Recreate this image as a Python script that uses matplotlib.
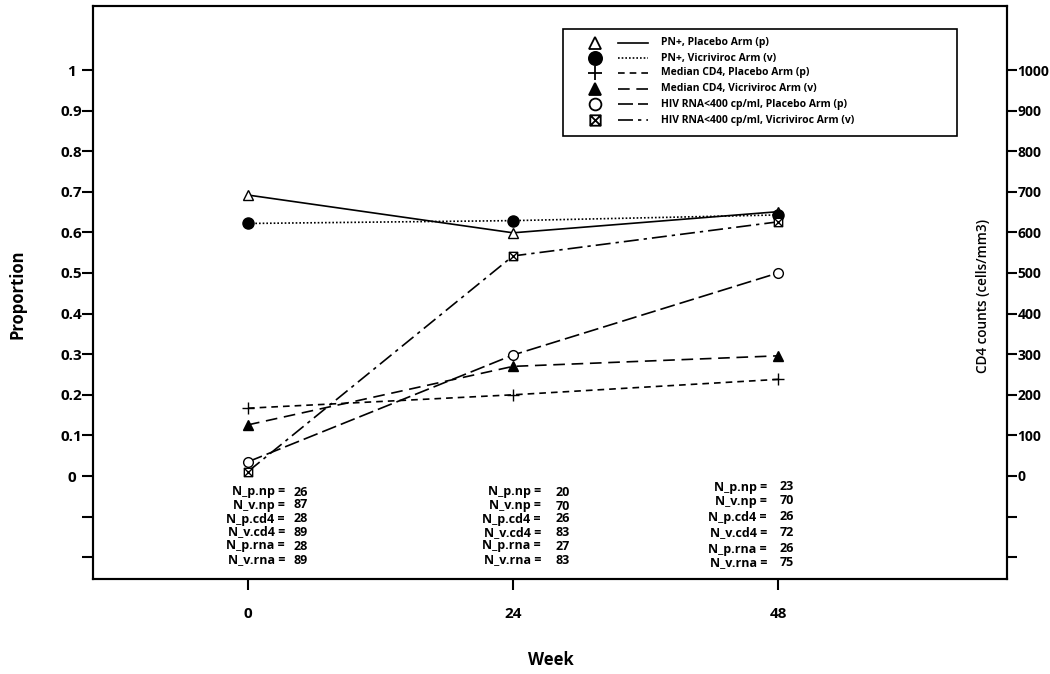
import matplotlib
matplotlib.use("Agg")
import matplotlib.pyplot as plt
from matplotlib.path import Path
from matplotlib.lines import Line2D
from matplotlib.patches import Rectangle

# ---------------- data ----------------
weeks = [0, 24, 48]
pn_placebo = [0.692, 0.599, 0.651]
pn_vicriviroc = [0.622, 0.629, 0.643]
cd4_placebo = [167, 200, 238]        # cells/mm3 (right axis)
cd4_vicriviroc = [126, 270, 296]     # cells/mm3 (right axis)
rna_placebo = [0.035, 0.298, 0.500]
rna_vicriviroc = [0.011, 0.542, 0.626]

legend_labels = ["PN+, Placebo Arm (p)", "PN+, Vicriviroc Arm (v)",
                 "Median CD4, Placebo Arm (p)", "Median CD4, Vicriviroc Arm (v)",
                 "HIV RNA<400 cp/ml, Placebo Arm (p)",
                 "HIV RNA<400 cp/ml, Vicriviroc Arm (v)"]

n_labels = ["N_p.np =", "N_v.np =", "N_p.cd4 =", "N_v.cd4 =", "N_p.rna =", "N_v.rna ="]
n_week0 = [26, 87, 28, 89, 28, 89]
n_week24 = [20, 70, 26, 83, 27, 83]
n_week48 = [23, 70, 26, 72, 26, 75]

left_ticks = [-0.2, -0.1, 0, 0.1, 0.2, 0.3, 0.4, 0.5, 0.6, 0.7, 0.8, 0.9, 1]
left_labels = ["", "", "0", "0.1", "0.2", "0.3", "0.4", "0.5", "0.6", "0.7", "0.8", "0.9", "1"]
right_ticks = [-200, -100, 0, 100, 200, 300, 400, 500, 600, 700, 800, 900, 1000]
right_labels = ["", "", "0", "100", "200", "300", "400", "500", "600", "700", "800", "900", "1000"]

# ---------------- style ----------------
plt.rcParams['font.family'] = ['Open Sans', 'DejaVu Sans']
W, H = 1050, 674
fig = plt.figure(figsize=(W / 100, H / 100), dpi=100)

def fx(x):
    return x / W

def fy(y):
    return 1 - y / H

ax_l, ax_r, ax_t, ax_b = 93, 1007, 6, 579
ax = fig.add_axes([fx(ax_l), fy(ax_b), fx(ax_r) - fx(ax_l), fy(ax_t) - fy(ax_b)])
ax2 = ax.twinx()

x0px, x24px = 248, 513
per = (x24px - x0px) / 24.0
ax.set_xlim((ax_l - x0px) / per, (ax_r - x0px) / per)
y0px, y1px = 476, 70
pu = (y0px - y1px)
ylo, yhi = (y0px - ax_b) / pu, (y0px - ax_t) / pu
ax.set_ylim(ylo, yhi)
ax2.set_ylim(ylo * 1000, yhi * 1000)

# boxed-x marker
boxx = Path([(-1, -1), (1, -1), (1, 1), (-1, 1), (-1, -1), (1, 1), (-1, 1), (1, -1)],
            [Path.MOVETO, Path.LINETO, Path.LINETO, Path.LINETO, Path.CLOSEPOLY,
             Path.LINETO, Path.MOVETO, Path.LINETO])

lw = 1.2
styles = [
    dict(ls='-', marker='^', mfc='white', ms=7),
    dict(ls=(0, (1, 1.2)), marker='o', mfc='black', ms=8),
    dict(ls=(0, (4, 3)), marker='+', mfc='black', ms=8),
    dict(ls=(0, (7, 4)), marker='^', mfc='black', ms=7),
    dict(ls=(0, (9, 3)), marker='o', mfc='white', ms=7),
    dict(ls=(0, (9, 3, 2, 3)), marker=boxx, mfc='white', ms=6),
]

series = [(ax, pn_placebo), (ax, pn_vicriviroc), (ax2, cd4_placebo),
          (ax2, cd4_vicriviroc), (ax, rna_placebo), (ax, rna_vicriviroc)]
for (a, vals), st in zip(series, styles):
    a.plot(weeks, vals, color='black', lw=lw, ls=st['ls'], marker=st['marker'],
           mfc=st['mfc'], mec='black', ms=st['ms'], mew=1.0, clip_on=False)

# axes styling
for a in (ax, ax2):
    for s in a.spines.values():
        s.set_linewidth(1.5)
ax.set_xticks(weeks)
ax.set_xticklabels([str(w) for w in weeks], fontsize=11, fontweight='bold')
ax.tick_params(axis='x', direction='out', length=8, width=1.5, pad=12)
ax.set_yticks(left_ticks)
ax.set_yticklabels(left_labels, fontsize=11, fontweight='bold')
ax.tick_params(axis='y', direction='out', length=7.6, width=1.5, pad=8)
for t in ax.get_yticklabels():
    t.set_horizontalalignment('center')
ax2.set_yticks(right_ticks)
ax2.set_yticklabels(right_labels, fontsize=10, fontweight='bold')
ax2.tick_params(axis='y', direction='out', length=7.2, width=1.5, pad=0.3)

fig.text(fx(18), fy(294), "Proportion", rotation=90, ha='center', va='center',
         fontsize=12, fontweight='bold')
fig.text(fx(551), fy(660), "Week", ha='center', va='center',
         fontsize=12, fontweight='bold')
fig.text(fx(983), fy(296), "CD4 counts (cells/mm3)", rotation=90, ha='center',
         va='center', fontsize=9.8, fontweight='semibold')

# ---------------- legend (manual) ----------------
fig.add_artist(Rectangle((fx(563), fy(136)), fx(957) - fx(563), fy(29) - fy(136),
                         transform=fig.transFigure, fill=True, facecolor='white',
                         edgecolor='black', lw=1.2, zorder=5))
rows = [43, 58, 73, 89, 104, 120]
for y, st, lab in zip(rows, styles, legend_labels):
    fig.add_artist(Line2D([fx(595)], [fy(y)], transform=fig.transFigure,
                          marker=st['marker'], mfc=st['mfc'], mec='black',
                          ms=st['ms'] + 1.5, mew=1.3, ls='none', zorder=6))
    fig.add_artist(Line2D([fx(618), fx(648)], [fy(y), fy(y)], transform=fig.transFigure,
                          color='black', lw=lw, ls=st['ls'], zorder=6))
    fig.text(fx(661), fy(y), lab, ha='left', va='center', fontsize=7.5,
             fontweight='bold', zorder=7)

# ---------------- N tables ----------------
cols = [
    (285, 294, n_week0, [492, 505, 519, 532, 546, 560]),
    (541, 556, n_week24, [492, 506, 519, 533, 546, 560]),
    (767, 780, n_week48, [487, 501, 517, 533, 549, 563]),
]
for lx, nx, nums, ys in cols:
    for lab, n, y in zip(n_labels, nums, ys):
        fig.text(fx(lx), fy(y), lab, ha='right', va='center', fontsize=9,
                 fontweight='bold')
        fig.text(fx(nx), fy(y), str(n), ha='left', va='center', fontsize=9,
                 fontweight='bold')

fig.savefig("out.png", dpi=100)
